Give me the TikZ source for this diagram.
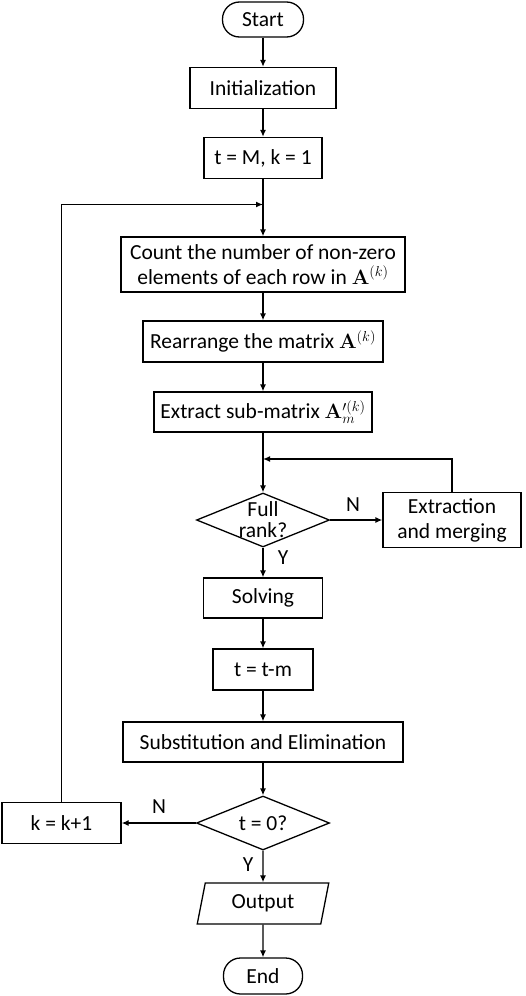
\documentclass[tikz,border=0pt]{standalone}
\usepackage[no-math]{fontspec}
\setmainfont{Carlito}
\usetikzlibrary{arrows.meta,shapes.geometric}

\begin{document}
\begin{tikzpicture}[x=1pt,y=-1pt,
  font=\fontsize{21.5}{25}\selectfont,
  box/.style={draw, line width=1.3pt, inner sep=0pt, align=center},
  term/.style={box, rounded corners=17pt},
  dia/.style={draw, line width=1.3pt, diamond, inner sep=0pt},
  io/.style={draw, line width=1.3pt, trapezium, trapezium left angle=76, trapezium right angle=104, trapezium stretches=true, inner sep=0pt},
  arr/.style={line width=1.3pt, -{Latex[length=7pt,width=6pt]}}]
\useasboundingbox (0,0) rectangle (526,996);
\node[term, minimum width=81, minimum height=35] (fid0) at (263,19.5) {Start};
\node[box, minimum width=146, minimum height=41] (fid1) at (263,88) {Initialization};
\node[box, minimum width=118, minimum height=41] (fid2) at (263,158) {t = M, k = 1};
\coordinate (cj0) at (263,204.5);
\node[box, minimum width=284, minimum height=55] (fid3) at (263,264.5) {Count the number of non-zero\\elements of each row in $\mathbf{A}^{(k)}$};
\node[box, minimum width=240, minimum height=41] (fid4) at (263,341.5) {Rearrange the matrix $\mathbf{A}^{(k)}$};
\node[box, minimum width=218, minimum height=40] (fid5) at (263,412) {Extract sub-matrix $\mathbf{A}_m^{\prime(k)}$};
\coordinate (cj1) at (263,459);
\node[dia, minimum width=133, minimum height=54] (fid6) at (263,520) {};
\node[align=center, font=\fontsize{21.5}{21}\selectfont] (fid6t) at (fid6) {Full\\rank?};
\node[box, minimum width=138, minimum height=55] (fid7) at (452,520) {Extraction\\and merging};
\node[box, minimum width=119, minimum height=40] (fid8) at (263,598) {Solving};
\node[box, minimum width=100, minimum height=41] (fid9) at (263,669.5) {t = t-m};
\node[box, minimum width=280, minimum height=40] (fid10) at (263,742) {Substitution and Elimination};
\node[dia, minimum width=133, minimum height=54] (fid11) at (263,823) {};
\node (fid11t) at (fid11) {t = 0?};
\node[box, minimum width=119, minimum height=41] (fid12) at (61.5,823) {k = k+1};
\node[io, minimum width=132, minimum height=41] (fid13) at (263,903.5) {Output};
\node[term, minimum width=79, minimum height=36] (fid14) at (263,976) {End};
\node (lbN0) at (353,505) {N};
\node (lbY0) at (283,558) {Y};
\node (lbN1) at (159,807) {N};
\node (lbY1) at (248,865) {Y};
\draw[arr] (fid0) -- (fid1);
\draw[arr] (fid1) -- (fid2);
\draw[arr] (fid2) -- (fid3);
\draw[arr] (fid12) |- (cj0);
\draw[arr] (fid3) -- (fid4);
\draw[arr] (fid4) -- (fid5);
\draw[arr] (fid5) -- (fid6);
\draw[arr] (fid7) |- (cj1);
\draw[arr] (fid6) -- (fid7);
\draw[arr] (fid6) -- (fid8);
\draw[arr] (fid8) -- (fid9);
\draw[arr] (fid9) -- (fid10);
\draw[arr] (fid10) -- (fid11);
\draw[arr] (fid11) -- (fid12);
\draw[arr] (fid11) -- (fid13);
\draw[arr] (fid13) -- (fid14);

\end{tikzpicture}
\end{document}
